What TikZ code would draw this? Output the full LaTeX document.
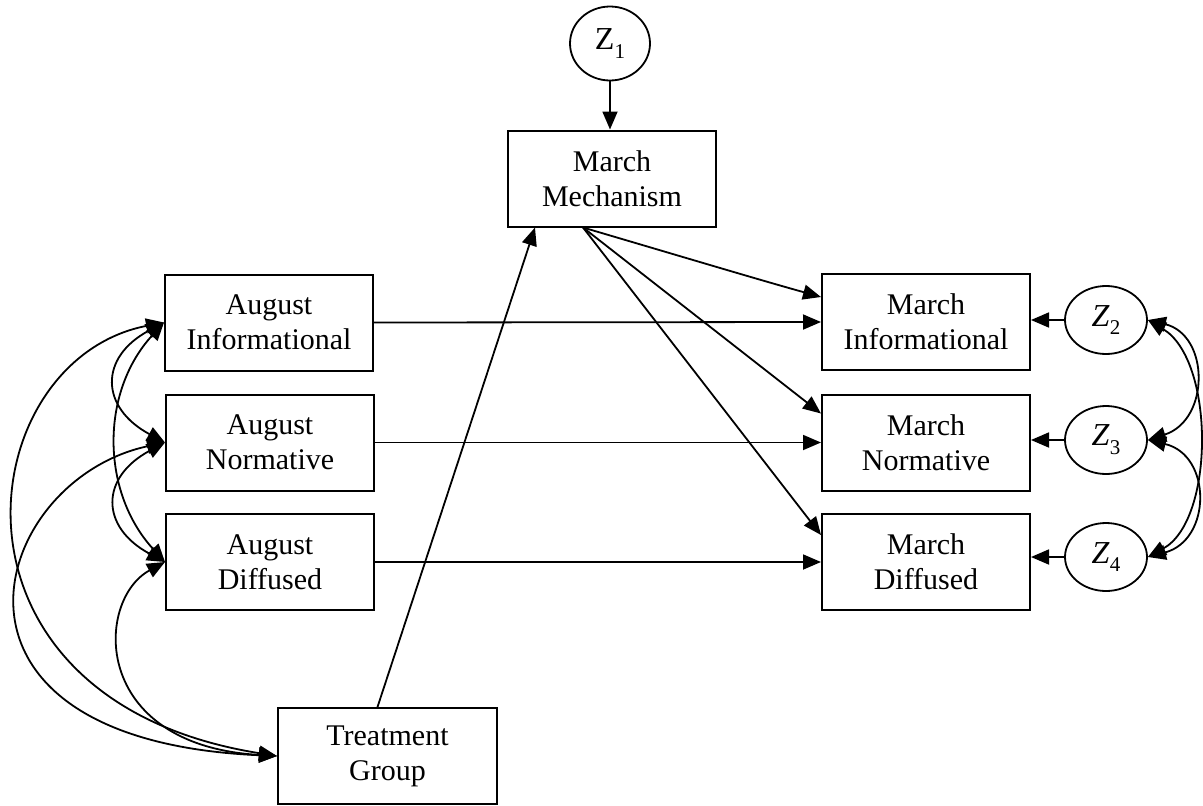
\documentclass[tikz,border=0pt]{standalone}
\usepackage{fontspec}
\setmainfont{Liberation Serif}
\usetikzlibrary{arrows.meta,shapes.geometric,calc}
% subscript index for the disturbance terms
\newcommand{\zsub}[1]{\raisebox{-0.28em}{\fontsize{21}{21}\selectfont #1}}
\begin{document}
\begin{tikzpicture}[x=1pt,y=1pt,
  boxnode/.style={draw,line width=2pt,minimum width=208pt,minimum height=96pt,
    inner sep=0pt,align=center,font=\fontsize{30}{35}\selectfont},
  zvar/.style={draw,ellipse,line width=1.8pt,minimum width=82pt,minimum height=68pt,
    inner sep=0pt,font=\fontsize{32}{32}\selectfont},
  link/.style={line width=1.8pt,-{Triangle[length=18pt,width=15pt]}},
  both/.style={line width=1.8pt,{Triangle[length=18pt,width=15pt]}-{Triangle[length=18pt,width=15pt]}}
]
\useasboundingbox (0,0) rectangle (1203,-806);

% disturbance terms
\node[zvar,minimum width=80pt,minimum height=74pt] (z1) at (610,-43.5) {Z\zsub{1}};
\node[zvar] (z2) at (1106,-320) {\textit{Z}\zsub{2}};
\node[zvar] (z3) at (1106,-440) {\textit{Z}\zsub{3}};
\node[zvar] (z4) at (1106,-557) {\textit{Z}\zsub{4}};

% observed variables
\node[boxnode] (mm) at (612,-178.5) {March\\Mechanism};
\node[boxnode] (ai) at (269,-322.5) {August\\Informational};
\node[boxnode] (an) at (270,-442.5) {August\\Normative};
\node[boxnode] (ad) at (270,-562) {August\\Diffused};
\node[boxnode] (mi) at (926,-322) {March\\Informational};
\node[boxnode] (mn) at (926,-442.5) {March\\Normative};
\node[boxnode] (md) at (926,-562) {March\\Diffused};
\node[boxnode,minimum width=219pt,minimum height=96pt] (tg) at (387.5,-756) {Treatment\\Group};

% direct effects
\draw[link] (z1.south) -- (z1.south |- mm.north);
\draw[link] ([xshift=-10pt]tg.north) -- ([xshift=-77pt]mm.south);
\draw[link] ([xshift=-29pt]mm.south) .. controls (700,-262) and (760,-280) .. ([yshift=-24pt]mi.north west);
\draw[link] ([xshift=-29pt]mm.south) -- ([yshift=-20pt]mn.north west);
\draw[link] ([xshift=-29pt]mm.south) -- ([yshift=-22pt]md.north west);
\draw[link] (ai.east) -- (mi.west);
\draw[link] (an.east) -- (mn.west);
\draw[link] (ad.east) -- (md.west);
\draw[link] (z2.west) -- (z2.west -| mi.east);
\draw[link] (z3.west) -- (z3.west -| mn.east);
\draw[link] (z4.west) -- (z4.west -| md.east);

% covariances among the exogenous variables
\draw[both] (ai.west) .. controls +(-65,-35) and +(-65,35) .. (an.west);
\draw[both] (an.west) .. controls +(-65,-35) and +(-65,35) .. (ad.west);
\draw[both] (ai.west) .. controls +(-64,-70) and +(-64,70) .. (ad.west);
\draw[both] (tg.west) .. controls (-75,-700) and (-30,-360) .. (ai.west);
\draw[both] (tg.west) .. controls (-90,-740) and (-10,-480) .. (an.west);
\draw[both] (tg.west) .. controls (90,-745) and (95,-600) .. (ad.west);

% covariances among the disturbances
\draw[both] (z2.east) .. controls (1210,-335) and (1210,-420) .. (z3.east);
\draw[both] (z3.east) .. controls (1212,-455) and (1212,-540) .. (z4.east);
\draw[both] (z2.east) .. controls (1215,-360) and (1215,-520) .. (z4.east);
\end{tikzpicture}
\end{document}
